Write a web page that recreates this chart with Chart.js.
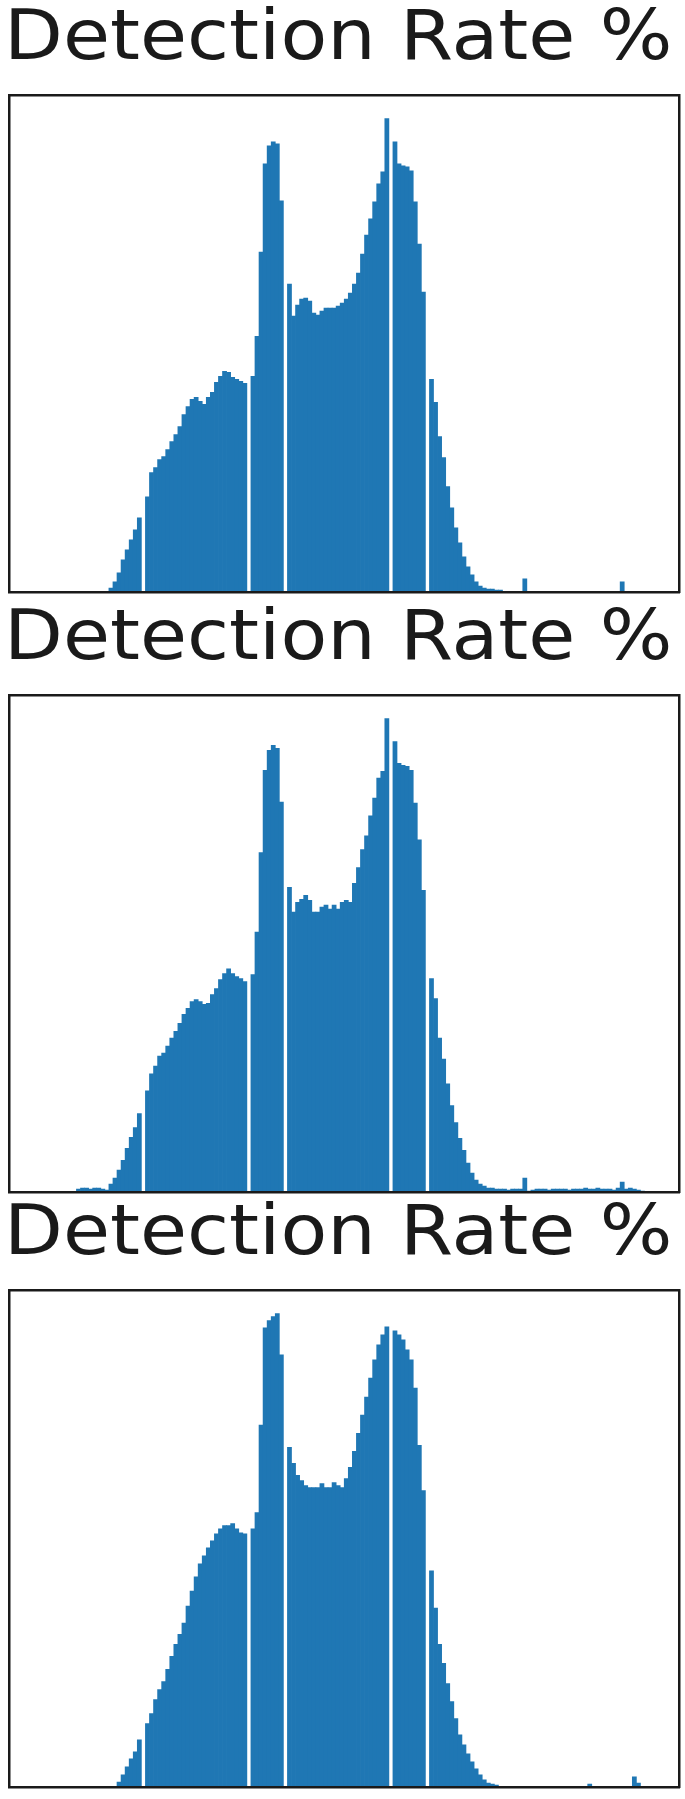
<!DOCTYPE html>
<html>
<head>
<meta charset="utf-8">
<title>Detection Rate %</title>
<script src="https://cdn.jsdelivr.net/npm/chart.js@4.4.0/dist/chart.umd.min.js"></script>
<style>
  html, body { margin: 0; padding: 0; background: #fff; }
  body { width: 685px; height: 1799px; position: relative; overflow: hidden; }
  .panel { position: absolute; left: 0; width: 685px; }
  .panel canvas { position: absolute; left: 0; top: 0; }
  .panel .title {
    position: absolute; left: 4px; top: 0;
    font-family: "DejaVu Sans", sans-serif; font-size: 70px; line-height: 70px;
    color: #1a1a1a; white-space: nowrap;
    transform: scaleX(1.093); transform-origin: 0 0;
  }
</style>
</head>
<body>
<div class="panel" style="top:0px;height:600px">
  <canvas id="histA" width="685" height="600"></canvas>
  <div class="title" id="titleA"></div>
</div>
<div class="panel" style="top:600px;height:600px">
  <canvas id="histB" width="685" height="600"></canvas>
  <div class="title" id="titleB"></div>
</div>
<div class="panel" style="top:1195px;height:604px">
  <canvas id="histC" width="685" height="604"></canvas>
  <div class="title" id="titleC"></div>
</div>
<script>
// 150 equal-width bins, one count per bin
const BIN_COUNT = 150;
const binIndex = Array.from({ length: BIN_COUNT }, (_, i) => i);
const panelTitle = 'Detection Rate %';

const countsA = [
  0, 0, 0, 0, 0, 0, 0, 0, 0, 0, 0, 0, 0, 0, 0, 0, 0,
  4, 10, 19, 32, 42, 52, 62, 74,
  0,
  95, 119, 124, 132, 135, 142, 150, 157, 165, 177, 185, 192, 194, 190, 187, 194, 199, 209, 215, 220, 219, 214, 212, 210, 208,
  0,
  215, 255, 339, 427, 445, 449, 447, 390,
  0,
  307, 275, 286, 292, 293, 290, 278, 276, 280, 283, 283, 283, 285, 288, 292, 298, 307, 318, 337, 356, 372, 389, 407, 419, 472,
  0,
  449, 427, 425, 424, 420, 389, 347, 299,
  0,
  212, 189, 155, 134, 105, 84, 64, 49, 35, 25, 17, 10, 6, 4, 3, 3, 2, 2,
  0, 0, 0, 0, 0,
  13,
  0, 0, 0, 0, 0, 0, 0, 0, 0, 0, 0, 0, 0, 0, 0, 0, 0, 0, 0, 0, 0, 0, 0,
  10,
  0, 0, 0, 0, 0, 0
];

const countsB = [
  0, 0, 0, 0, 0, 0, 0, 0, 0,
  3, 4, 4, 3, 4, 4, 3, 2,
  8, 14, 22, 32, 44, 55, 65, 79,
  0,
  102, 119, 127, 137, 140, 147, 155, 162, 170, 179, 185, 192, 194, 192, 189, 190, 199, 205, 214, 220, 225, 220, 217, 215, 212,
  0,
  219, 262, 342, 425, 445, 450, 447, 393,
  0,
  307, 282, 292, 295, 299, 294, 282, 282, 287, 289, 285, 289, 285, 292, 294, 292, 311, 327, 345, 359, 379, 397, 417, 424, 477,
  0,
  454, 432, 430, 429, 425, 392, 355, 304,
  0,
  215, 195, 155, 134, 109, 87, 70, 54, 42, 29, 19, 12, 8, 6, 4, 4,
  3, 3, 3, 2, 3, 3, 3,
  14,
  1, 2, 3, 3, 3, 2, 3, 3, 3, 3, 2, 3, 3, 3, 4, 3, 3, 4, 3, 3, 3, 2, 4,
  10,
  3, 4, 3, 2, 1, 0
];

const countsC = [
  0, 0, 0, 0, 0, 0, 0, 0, 0, 0, 0, 0, 0, 0, 0, 0, 0, 0, 0,
  5, 12, 20, 28, 35, 47,
  0,
  63, 73, 87, 97, 105, 117, 130, 142, 152, 163, 180, 195, 209, 222, 230, 238, 245, 252, 257, 260, 260, 262, 257, 253, 252,
  0,
  257, 273, 360, 457, 464, 468, 471, 430,
  0,
  338, 322, 310, 305, 300, 298, 298, 298, 302, 298, 298, 303, 300, 298, 307, 318, 334, 352, 370, 388, 407, 425, 440, 450, 458,
  0,
  454, 450, 445, 435, 425, 397, 340, 295,
  0,
  215, 178, 142, 123, 103, 85, 68, 52, 42, 33, 25, 18, 12, 7, 4, 3, 2,
  0, 0, 0, 0, 0, 0, 0, 0, 0, 0, 0, 0, 0, 0, 0, 0, 0, 0, 0, 0, 0, 0,
  3,
  0, 0, 0, 0, 0, 0, 0, 0, 0, 0,
  10, 4,
  0, 0
];

// axis box: no ticks, just the black frame
function frameAxis(extra) {
  return Object.assign({
    display: true,
    ticks: { display: false },
    grid: { display: false, drawTicks: false },
    border: { display: true, color: '#1a1a1a', width: 2.5, z: 1 },
    afterBuildTicks: function(scale) { scale.ticks = []; }
  }, extra);
}

function drawHistogram(canvasId, titleId, counts, canvasHeight) {
  document.getElementById(titleId).textContent = panelTitle;
  const ctx = document.getElementById(canvasId).getContext('2d');
  return new Chart(ctx, {
    type: 'bar',
    data: {
      datasets: [{
        data: binIndex.map((b, i) => ({ x: b + 0.5, y: counts[i] })),
        backgroundColor: '#1f77b4',
        borderWidth: 0,
        barPercentage: 1,
        categoryPercentage: 1,
        inflateAmount: 0.35
      }]
    },
    options: {
      responsive: false,
      animation: false,
      layout: { padding: { left: 9.5, right: 6, top: 95, bottom: canvasHeight - 592 } },
      plugins: {
        legend: { display: false },
        tooltip: { enabled: false },
        title: { display: false }
      },
      scales: {
        x: frameAxis({ type: 'linear', position: 'bottom', min: -BIN_COUNT * 0.05, max: BIN_COUNT * 1.05 }),
        x2: frameAxis({ type: 'linear', position: 'top', min: 0, max: 1 }),
        y: frameAxis({ type: 'linear', position: 'left', min: 0, max: Math.max(...counts) * 1.05 }),
        y2: frameAxis({ type: 'linear', position: 'right', min: 0, max: 1 })
      }
    }
  });
}

drawHistogram('histA', 'titleA', countsA, 600);
drawHistogram('histB', 'titleB', countsB, 600);
drawHistogram('histC', 'titleC', countsC, 604);
</script>
</body>
</html>
